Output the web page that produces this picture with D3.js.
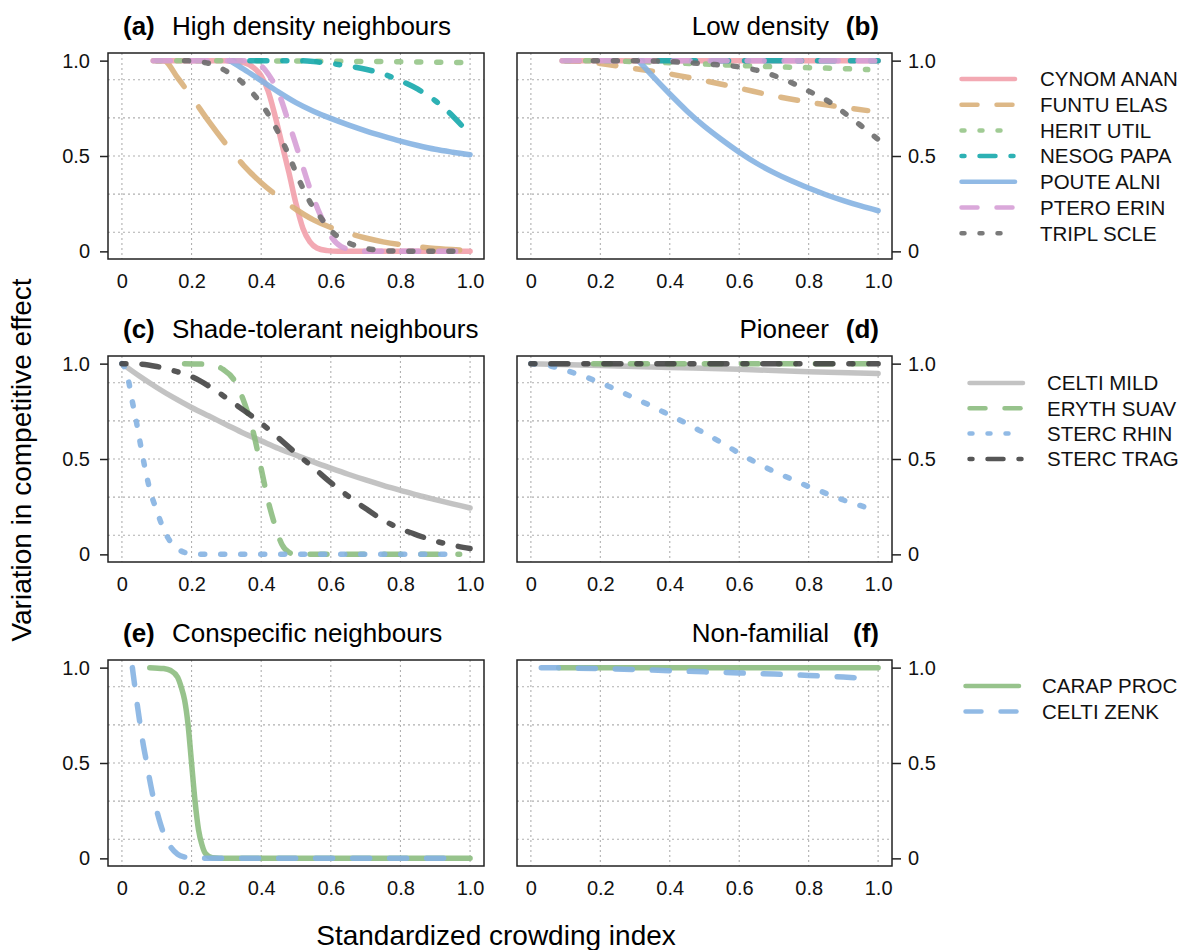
<!DOCTYPE html>
<meta charset="utf-8">
<style>
body { margin: 0; background: #fff; }
svg { display: block; font-family: "Liberation Sans", Arial, sans-serif; }
.grid line { stroke: #b0b0b0; stroke-width: 1.1; stroke-dasharray: 2,3; }
.frame { fill: none; stroke: #222; stroke-width: 1.5; }
.axis text { font-size: 20px; fill: #111; font-family: "Liberation Sans", Arial, sans-serif; }
.axis line { stroke: #222; stroke-width: 1.5; }
.legend text { font-size: 20.5px; fill: #111; }
</style>
<body>
<script src="https://d3js.org/d3.v7.min.js"></script>
<script>

// ---- ticks / grid ----
var xTicks = [0, 0.2, 0.4, 0.6, 0.8, 1.0];
var xTickLabels = ["0", "0.2", "0.4", "0.6", "0.8", "1.0"];
var yTicks = [0, 0.5, 1.0];
var yTickLabels = ["0", "0.5", "1.0"];
var hGrid = [0.1, 0.3, 0.5, 0.7, 0.9];

// ---- legend groups ----
var speciesDensity = ["CYNOM ANAN", "FUNTU ELAS", "HERIT UTIL", "NESOG PAPA", "POUTE ALNI", "PTERO ERIN", "TRIPL SCLE"];
var speciesShade = ["CELTI MILD", "ERYTH SUAV", "STERC RHIN", "STERC TRAG"];
var speciesConsp = ["CARAP PROC", "CELTI ZENK"];

// ---- (a) high density neighbours: [crowding index, effect] ----
var aCynom = [[0.10,1],[0.30,1],[0.35,0.99],[0.38,0.96],[0.40,0.92],[0.42,0.84],[0.44,0.71],[0.46,0.56],[0.48,0.41],[0.50,0.25],[0.52,0.12],[0.54,0.05],[0.56,0.018],[0.59,0.004],[0.62,0],[1.0,0]];
var aFuntu = [[0.09,1],[0.12,1],[0.16,0.91],[0.2,0.81],[0.25,0.68],[0.3,0.56],[0.35,0.45],[0.4,0.36],[0.45,0.285],[0.5,0.22],[0.55,0.165],[0.6,0.125],[0.65,0.095],[0.7,0.07],[0.75,0.05],[0.8,0.035],[0.85,0.024],[0.9,0.015],[0.97,0.007]];
var aHerit = [[0.1,1],[0.5,0.998],[0.8,0.994],[0.98,0.99]];
var aNesog = [[0.31,1],[0.5,1],[0.55,0.995],[0.6,0.985],[0.65,0.972],[0.7,0.955],[0.75,0.93],[0.8,0.895],[0.85,0.85],[0.9,0.79],[0.95,0.71],[1.0,0.61]];
var aPoute = [[0.31,1],[0.35,0.955],[0.4,0.895],[0.45,0.835],[0.5,0.78],[0.55,0.735],[0.6,0.697],[0.65,0.663],[0.7,0.632],[0.75,0.604],[0.8,0.578],[0.85,0.555],[0.9,0.535],[0.95,0.52],[1.0,0.507]];
var aPtero = [[0.09,1],[0.35,1],[0.39,0.985],[0.42,0.93],[0.45,0.83],[0.48,0.67],[0.51,0.5],[0.54,0.33],[0.57,0.19],[0.6,0.08],[0.63,0.025],[0.67,0.005],[0.7,0],[0.97,0]];
var aTripl = [[0.18,1],[0.22,0.995],[0.26,0.98],[0.3,0.945],[0.34,0.895],[0.38,0.82],[0.42,0.72],[0.45,0.62],[0.48,0.5],[0.51,0.37],[0.54,0.26],[0.57,0.18],[0.6,0.11],[0.64,0.055],[0.68,0.025],[0.72,0.01],[0.78,0.002],[0.97,0]];

// ---- (b) low density ----
var bCynom = [[0.1,1],[1.0,1]];
var bFuntu = [[0.09,1],[0.15,0.995],[0.2,0.985],[0.3,0.958],[0.4,0.93],[0.5,0.895],[0.6,0.856],[0.7,0.815],[0.8,0.782],[0.9,0.755],[0.97,0.738]];
var bHerit = [[0.1,1],[0.3,0.995],[0.5,0.982],[0.7,0.968],[0.9,0.958],[0.97,0.953]];
var bNesog = [[0.31,1],[1.0,1]];
var bPoute = [[0.31,1],[0.35,0.92],[0.4,0.825],[0.45,0.735],[0.5,0.655],[0.55,0.585],[0.6,0.52],[0.65,0.462],[0.7,0.413],[0.75,0.37],[0.8,0.332],[0.85,0.297],[0.9,0.266],[0.95,0.238],[1.0,0.213]];
var bPtero = [[0.09,1],[0.99,1]];
var bTripl = [[0.18,1],[0.3,1],[0.4,0.995],[0.5,0.983],[0.6,0.967],[0.65,0.95],[0.7,0.922],[0.75,0.885],[0.8,0.84],[0.85,0.795],[0.9,0.73],[0.95,0.66],[1.0,0.587]];

// ---- (c) shade-tolerant neighbours ----
var cCelti = [[0,1],[0.05,0.935],[0.1,0.875],[0.15,0.82],[0.2,0.77],[0.25,0.725],[0.3,0.68],[0.35,0.635],[0.4,0.595],[0.45,0.555],[0.5,0.52],[0.55,0.485],[0.6,0.452],[0.65,0.42],[0.7,0.39],[0.75,0.362],[0.8,0.336],[0.85,0.31],[0.9,0.287],[0.95,0.265],[1.0,0.243]];
var cEryth = [[0.18,1],[0.26,0.995],[0.29,0.97],[0.32,0.92],[0.34,0.85],[0.36,0.75],[0.38,0.62],[0.4,0.45],[0.42,0.28],[0.44,0.15],[0.46,0.05],[0.48,0.01],[0.5,0],[0.97,0]];
var cRhin = [[0,1],[0.01,0.97],[0.02,0.9],[0.03,0.8],[0.04,0.71],[0.05,0.61],[0.06,0.51],[0.07,0.42],[0.08,0.34],[0.1,0.23],[0.12,0.13],[0.14,0.065],[0.16,0.03],[0.18,0.01],[0.22,0],[0.97,0]];
var cTrag = [[0,1],[0.05,0.998],[0.1,0.985],[0.15,0.962],[0.2,0.932],[0.25,0.882],[0.3,0.82],[0.35,0.755],[0.4,0.688],[0.45,0.61],[0.5,0.53],[0.55,0.455],[0.6,0.376],[0.65,0.305],[0.7,0.24],[0.75,0.18],[0.8,0.135],[0.85,0.1],[0.9,0.07],[0.95,0.048],[1.0,0.031]];

// ---- (d) pioneer ----
var dCelti = [[0,1],[0.2,0.99],[0.4,0.98],[0.6,0.97],[0.8,0.958],[1.0,0.948]];
var dEryth = [[0.18,1],[0.97,1]];
var dRhin = [[0,1],[0.05,0.99],[0.1,0.965],[0.15,0.935],[0.2,0.9],[0.25,0.86],[0.3,0.818],[0.35,0.775],[0.4,0.73],[0.45,0.685],[0.5,0.635],[0.55,0.585],[0.6,0.53],[0.65,0.48],[0.7,0.435],[0.75,0.395],[0.8,0.355],[0.85,0.32],[0.9,0.285],[0.95,0.255],[1.0,0.225]];
var dTrag = [[0,1],[1.0,1]];

// ---- (e) conspecific neighbours ----
var eCarap = [[0.08,1],[0.12,0.995],[0.14,0.985],[0.16,0.95],[0.17,0.9],[0.18,0.83],[0.19,0.7],[0.2,0.5],[0.21,0.3],[0.22,0.15],[0.23,0.07],[0.24,0.025],[0.26,0.003],[0.3,0],[1.0,0]];
var eZenk = [[0.03,1],[0.035,0.93],[0.04,0.86],[0.05,0.73],[0.06,0.61],[0.07,0.51],[0.08,0.41],[0.09,0.32],[0.1,0.25],[0.11,0.185],[0.12,0.13],[0.14,0.06],[0.16,0.022],[0.18,0.007],[0.2,0.002],[0.22,0],[0.95,0]];

// ---- (f) non-familial ----
var fCarap = [[0.08,1],[1.0,1]];
var fZenk = [[0.03,1],[0.2,0.995],[0.3,0.99],[0.4,0.984],[0.5,0.978],[0.6,0.972],[0.7,0.966],[0.8,0.959],[0.9,0.951],[0.95,0.945]];

// styles per species
var colour = {
  "CYNOM ANAN": "#f2a0ab", "FUNTU ELAS": "#d9b07a", "HERIT UTIL": "#96c588",
  "NESOG PAPA": "#16a9ac", "POUTE ALNI": "#85b3e2", "PTERO ERIN": "#d69fd6",
  "TRIPL SCLE": "#6b6b6b", "CELTI MILD": "#bdbdbd", "ERYTH SUAV": "#8cbd7f",
  "STERC RHIN": "#85b3e2", "STERC TRAG": "#444444", "CARAP PROC": "#8cbd7f",
  "CELTI ZENK": "#85b3e2"
};
var lty = {
  "CYNOM ANAN": "solid", "FUNTU ELAS": "dashed", "HERIT UTIL": "dotted",
  "NESOG PAPA": "dotdash", "POUTE ALNI": "solid", "PTERO ERIN": "dashed",
  "TRIPL SCLE": "dotted", "CELTI MILD": "solid", "ERYTH SUAV": "dashed",
  "STERC RHIN": "dotted", "STERC TRAG": "dotdash", "CARAP PROC": "solid",
  "CELTI ZENK": "dashed"
};
var plotDash = { solid: null, dashed: "17,20", dotted: "4,16", dotdash: "4,16,17,16" };
var legendDash = { solid: null, dashed: "16,19", dotted: "3,15", dotdash: "3,15,16,15" };
var dashOverride = { "a:FUNTU ELAS": "44,25" };

var panels = [
  { id: "a", title: "High density neighbours", col: 0, row: 0,
    series: [["CYNOM ANAN", aCynom], ["FUNTU ELAS", aFuntu], ["HERIT UTIL", aHerit], ["NESOG PAPA", aNesog], ["POUTE ALNI", aPoute], ["PTERO ERIN", aPtero], ["TRIPL SCLE", aTripl]] },
  { id: "b", title: "Low density", col: 1, row: 0,
    series: [["CYNOM ANAN", bCynom], ["FUNTU ELAS", bFuntu], ["HERIT UTIL", bHerit], ["NESOG PAPA", bNesog], ["POUTE ALNI", bPoute], ["PTERO ERIN", bPtero], ["TRIPL SCLE", bTripl]] },
  { id: "c", title: "Shade-tolerant neighbours", col: 0, row: 1,
    series: [["CELTI MILD", cCelti], ["ERYTH SUAV", cEryth], ["STERC RHIN", cRhin], ["STERC TRAG", cTrag]] },
  { id: "d", title: "Pioneer", col: 1, row: 1,
    series: [["CELTI MILD", dCelti], ["ERYTH SUAV", dEryth], ["STERC RHIN", dRhin], ["STERC TRAG", dTrag]] },
  { id: "e", title: "Conspecific neighbours", col: 0, row: 2,
    series: [["CARAP PROC", eCarap], ["CELTI ZENK", eZenk]] },
  { id: "f", title: "Non-familial", col: 1, row: 2,
    series: [["CARAP PROC", fCarap], ["CELTI ZENK", fZenk]] }
];

var legends = [
  { species: speciesDensity, x: 959, tx: 1040, y: 79, step: 25.7 },
  { species: speciesShade, x: 967, tx: 1047, y: 383, step: 25.3 },
  { species: speciesConsp, x: 963, tx: 1042, y: 686, step: 25.5 }
];

// layout
var colX = [[108, 484], [517, 892]];
var rowTop = [53, 356, 660];
var boxH = 206;

var svg = d3.select("body").append("svg")
    .attr("width", 1189)
    .attr("height", 950);

svg.append("rect").attr("width", 1189).attr("height", 950).attr("fill", "#fff");

panels.forEach(function(p) {
  var x0 = colX[p.col][0], x1 = colX[p.col][1];
  var top = rowTop[p.row], bottom = top + boxH;

  var x = d3.scaleLinear().domain([-0.04, 1.04]).range([x0, x1]);
  var y = d3.scaleLinear().domain([-0.04, 1.04]).range([bottom, top]);

  var g = svg.append("g");

  // grid
  var grid = g.append("g").attr("class", "grid");
  grid.selectAll(".v").data(xTicks).enter().append("line")
      .attr("x1", function(d) { return x(d); }).attr("x2", function(d) { return x(d); })
      .attr("y1", top).attr("y2", bottom);
  grid.selectAll(".h").data(hGrid).enter().append("line")
      .attr("x1", x0).attr("x2", x1)
      .attr("y1", function(d) { return y(d); }).attr("y2", function(d) { return y(d); });

  // curves
  var line = d3.line()
      .x(function(d) { return x(d[0]); })
      .y(function(d) { return y(d[1]); })
      .curve(d3.curveMonotoneX);

  p.series.forEach(function(s) {
    var name = s[0];
    var dash = dashOverride[p.id + ":" + name] || plotDash[lty[name]];
    g.append("path")
        .datum(s[1])
        .attr("d", line)
        .attr("fill", "none")
        .attr("stroke", colour[name])
        .attr("stroke-opacity", 0.9)
        .attr("stroke-width", 5.5)
        .attr("stroke-linecap", "round")
        .attr("stroke-linejoin", "round")
        .attr("stroke-dasharray", dash);
  });

  // frame
  g.append("rect").attr("class", "frame")
      .attr("x", x0).attr("y", top)
      .attr("width", x1 - x0).attr("height", boxH);

  // x axis (labels only)
  var xa = g.append("g").attr("class", "axis")
      .attr("transform", "translate(0," + bottom + ")")
      .call(d3.axisBottom(x).tickValues(xTicks).tickSize(0).tickPadding(15)
            .tickFormat(function(d, i) { return xTickLabels[i]; }));
  xa.select(".domain").remove();

  // y axis
  var ya;
  if (p.col === 0) {
    ya = g.append("g").attr("class", "axis")
        .attr("transform", "translate(" + x0 + ",0)")
        .call(d3.axisLeft(y).tickValues(yTicks).tickSize(8).tickPadding(10)
              .tickFormat(function(d, i) { return yTickLabels[i]; }));
  } else {
    ya = g.append("g").attr("class", "axis")
        .attr("transform", "translate(" + x1 + ",0)")
        .call(d3.axisRight(y).tickValues(yTicks).tickSize(9).tickPadding(7)
              .tickFormat(function(d, i) { return yTickLabels[i]; }));
  }
  ya.select(".domain").remove();

  // titles
  var ty = top - 18;
  if (p.col === 0) {
    g.append("text").attr("x", 123).attr("y", ty)
        .attr("font-size", 26).attr("font-weight", "bold").text("(" + p.id + ")");
    g.append("text").attr("x", 172).attr("y", ty)
        .attr("font-size", 26).text(p.title);
  } else {
    g.append("text").attr("x", 879).attr("y", ty).attr("text-anchor", "end")
        .attr("font-size", 26).attr("font-weight", "bold").text("(" + p.id + ")");
    g.append("text").attr("x", 829).attr("y", ty).attr("text-anchor", "end")
        .attr("font-size", 26).text(p.title);
  }
});

// legends
legends.forEach(function(L) {
  var lg = svg.append("g").attr("class", "legend");
  L.species.forEach(function(name, i) {
    var yy = L.y + i * L.step;
    lg.append("line")
        .attr("x1", L.x + 2.5).attr("x2", L.x + 56)
        .attr("y1", yy).attr("y2", yy)
        .attr("stroke", colour[name])
        .attr("stroke-opacity", 0.9)
        .attr("stroke-width", 4.5)
        .attr("stroke-linecap", "round")
        .attr("stroke-dasharray", legendDash[lty[name]]);
    lg.append("text")
        .attr("x", L.tx).attr("y", yy).attr("dy", "0.36em")
        .text(name);
  });
});

// axis titles
svg.append("text")
    .attr("transform", "translate(31,460) rotate(-90)")
    .attr("text-anchor", "middle")
    .attr("font-size", 28)
    .text("Variation in competitive effect");

svg.append("text")
    .attr("x", 496).attr("y", 945)
    .attr("text-anchor", "middle")
    .attr("font-size", 28)
    .text("Standardized crowding index");

</script>
</body>
